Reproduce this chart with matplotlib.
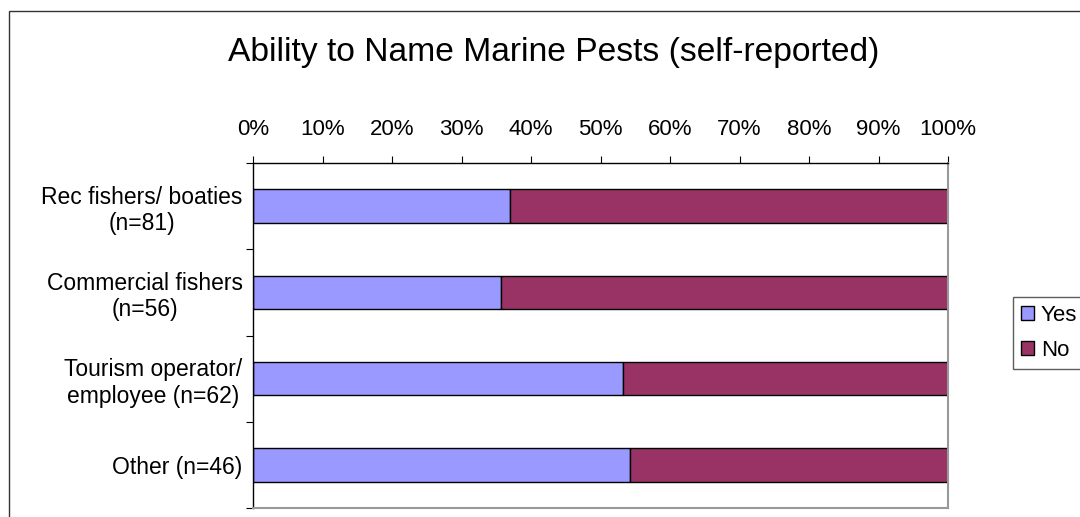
import matplotlib.pyplot as plt
from matplotlib.patches import Rectangle

plt.rcParams['font.family'] = ['Liberation Sans', 'DejaVu Sans']

groups = ['Rec fishers/ boaties\n(n=81)', 'Commercial fishers\n(n=56)',
          'Tourism operator/\nemployee (n=62)', 'Other (n=46)']
yes_pct = [37.0, 35.7, 53.2, 54.3]
no_pct = [100 - v for v in yes_pct]
ticks = [0, 10, 20, 30, 40, 50, 60, 70, 80, 90, 100]

fig = plt.figure(figsize=(10.8, 5.17), dpi=100)
W, H = 1080, 517

# outer chart border, runs off the right and bottom edges
fig.patches.append(Rectangle((9 / W, -0.1), 1.2, 1 - 11 / H + 0.1,
                             transform=fig.transFigure, fill=False,
                             edgecolor='#333333', linewidth=1.0))

ax = fig.add_axes([253 / W, 1 - 508 / H, (948 - 253) / W, (508 - 163) / H])

pos = list(range(len(groups)))
ax.barh(pos, yes_pct, height=0.39, color='#9999FF', edgecolor='black',
        linewidth=1.0, label='Yes')
ax.barh(pos, no_pct, left=yes_pct, height=0.39, color='#993366',
        edgecolor='black', linewidth=1.0, label='No')

ax.set_xlim(0, 100)
ax.set_ylim(len(groups) - 0.5, -0.5)
ax.xaxis.tick_top()
ax.set_xticks(ticks)
ax.set_xticklabels([f'{t}%' for t in ticks], fontsize=16)
ax.tick_params(axis='x', direction='out', length=5, width=0.8, pad=11.5)

ax.set_yticks(pos)
ax.set_yticklabels(groups, fontsize=16.5, ha='right', multialignment='center')
ax.set_yticks([p - 0.5 for p in pos] + [len(groups) - 0.5], minor=True)
ax.tick_params(axis='y', which='major', length=0, pad=7.5)
ax.tick_params(axis='y', which='minor', direction='out', length=5, width=0.8)

for side in ['top', 'left']:
    ax.spines[side].set_color('black')
    ax.spines[side].set_linewidth(1.0)
for side in ['right', 'bottom']:
    ax.spines[side].set_color('#999999')
    ax.spines[side].set_linewidth(1.5)

fig.text(554 / W, 1 - 61 / H, 'Ability to Name Marine Pests (self-reported)',
         ha='center', va='baseline', fontsize=24.2)

leg = fig.legend(loc='upper left', bbox_to_anchor=(1013 / W, 1 - 297 / H),
                 fontsize=16, frameon=True, fancybox=False, shadow=False,
                 borderaxespad=0, handlelength=0.6, handleheight=0.6,
                 handletextpad=0.3, labelspacing=0.65, borderpad=0.35)
leg.get_frame().set_edgecolor('#333333')
leg.get_frame().set_linewidth(1.0)

fig.savefig('out.png', dpi=100)
